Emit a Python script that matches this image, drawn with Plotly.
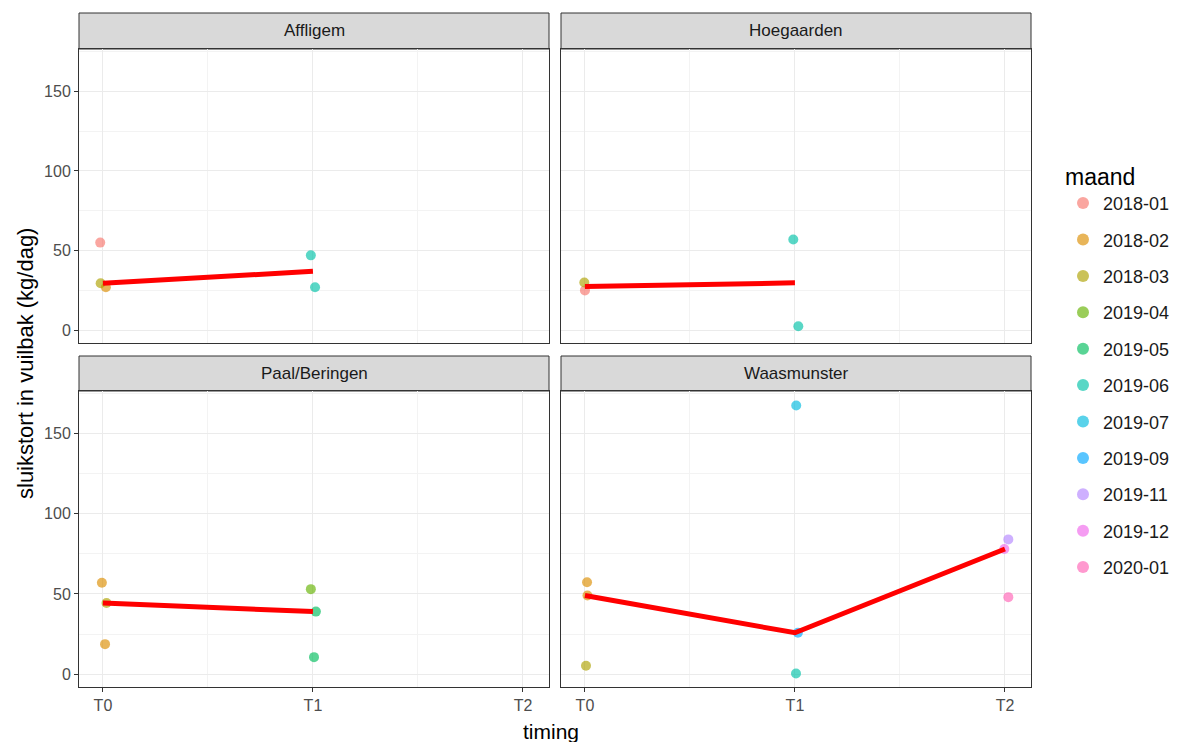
import numpy as np
import plotly.graph_objects as go

# ---------------- data ----------------
sites = ["Affligem", "Hoegaarden", "Paal/Beringen", "Waasmunster"]
timing_labels = ["T0", "T1", "T2"]
months = ["2018-01", "2018-02", "2018-03", "2019-04", "2019-05", "2019-06",
          "2019-07", "2019-09", "2019-11", "2019-12", "2020-01"]
month_colors = ["#F8766D", "#DB8E00", "#AEA200", "#64B200", "#00BD5C", "#00C1A7",
                "#00BADE", "#00A6FF", "#B385FF", "#EF67EB", "#FF63B6"]

obs_site = ["Affligem"] * 5 + ["Hoegaarden"] * 4 + ["Paal/Beringen"] * 6 + ["Waasmunster"] * 9
obs_timing = [0, 0, 0, 1, 1,
              0, 0, 1, 1,
              0, 0, 0, 1, 1, 1,
              0, 0, 0, 1, 1, 1, 2, 2, 2]
obs_month = ["2018-01", "2018-03", "2018-02", "2019-06", "2019-06",
             "2018-01", "2018-03", "2019-06", "2019-06",
             "2018-02", "2018-03", "2018-02", "2019-04", "2019-05", "2019-05",
             "2018-02", "2018-02", "2018-03", "2019-07", "2019-09", "2019-06",
             "2019-11", "2019-12", "2020-01"]
obs_value = [55, 29.5, 27, 47, 27,
             25, 30, 57, 2.5,
             57, 44.4, 18.7, 53, 39, 10.6,
             57.3, 49, 5.2, 167.5, 25.8, 0.4,
             84, 78, 48]
obs_jitter = [-0.013, -0.011, 0.014, -0.010, 0.010,
              0.0, -0.003, -0.008, 0.016,
              -0.005, 0.017, 0.010, -0.010, 0.014, 0.005,
              0.010, 0.012, 0.005, 0.006, 0.014, 0.005,
              0.016, -0.003, 0.016]

# ---------------- layout geometry ----------------
# the page body adds an 8px margin; coordinates below are window pixels
OFF = 8
W, H = 1187 - OFF, 742 - OFF
px_x = [(79, 549), (561, 1031)]
px_y_plot = [(49, 343), (391, 687)]
px_y_strip = [(13, 49), (356, 391)]

def xp(a):
    return (a - OFF) / W

def yp(a):
    return 1 - (a - OFF) / H

def xd(a, b):
    return [xp(a), xp(b)]

def yd(top, bot):
    return [yp(bot), yp(top)]

fig = go.Figure()

FONT = "Arial, Liberation Sans, sans-serif"
axis_ids = ["", "2", "3", "4"]
legend_done = set()

for i, site in enumerate(sites):
    r, c = divmod(i, 2)
    ax = axis_ids[i]
    xref = "x" + ax
    yref = "y" + ax
    idx = [k for k, s in enumerate(obs_site) if s == site]
    # points by month
    for m, col in zip(months, month_colors):
        sel = [k for k in idx if obs_month[k] == m]
        if not sel:
            continue
        show = m not in legend_done
        legend_done.add(m)
        fig.add_trace(go.Scatter(
            x=[obs_timing[k] + obs_jitter[k] for k in sel],
            y=[obs_value[k] for k in sel],
            mode="markers",
            marker=dict(color=col, size=10, opacity=0.65, line=dict(width=0)),
            name=m, legendgroup=m, showlegend=show,
            legendrank=months.index(m),
            xaxis=xref, yaxis=yref, hoverinfo="x+y+name"))
    # median line
    ts = sorted(set(obs_timing[k] for k in idx))
    med = [float(np.median([obs_value[k] for k in idx if obs_timing[k] == t])) for t in ts]
    fig.add_trace(go.Scatter(x=ts, y=med, mode="lines",
                             line=dict(color="#FF0000", width=5),
                             showlegend=False, xaxis=xref, yaxis=yref))

    xa = dict(domain=xd(*px_x[c]), range=[-0.114, 2.124],
              tickvals=[0, 1, 2], ticktext=timing_labels,
              showgrid=True, gridcolor="#EBEBEB", gridwidth=1.1,
              minor=dict(tickvals=[0.5, 1.5], showgrid=True, gridcolor="#F3F3F3", gridwidth=0.7),
              showline=True, mirror=True, linecolor="#333333", linewidth=1,
              zeroline=False, anchor=yref,
              tickfont=dict(family=FONT, size=16, color="#4D4D4D"))
    if r == 1:
        xa.update(ticks="outside", ticklen=4, tickcolor="#333333", showticklabels=True)
    else:
        xa.update(ticks="", showticklabels=False)
    if i > 0:
        xa["matches"] = "x"
    ya = dict(domain=yd(*px_y_plot[r]), range=[-8, 176.5],
              tickvals=[0, 50, 100, 150],
              showgrid=True, gridcolor="#EBEBEB", gridwidth=1.1,
              minor=dict(tickvals=[25, 75, 125, 175], showgrid=True, gridcolor="#F3F3F3", gridwidth=0.7),
              showline=True, mirror=True, linecolor="#333333", linewidth=1,
              zeroline=False, anchor=xref,
              tickfont=dict(family=FONT, size=16, color="#4D4D4D"))
    if c == 0:
        ya.update(ticks="outside", ticklen=4, tickcolor="#333333", showticklabels=True)
    else:
        ya.update(ticks="", showticklabels=False)
    fig.update_layout(**{"xaxis" + ax: xa, "yaxis" + ax: ya})

    # strip
    sx0, sx1 = xd(*px_x[c])
    sy0, sy1 = yd(*px_y_strip[r])
    fig.add_shape(type="rect", xref="paper", yref="paper", x0=sx0, x1=sx1, y0=sy0, y1=sy1,
                  fillcolor="#D9D9D9", line=dict(color="#333333", width=1), layer="below")
    fig.add_annotation(x=(sx0 + sx1) / 2, y=(sy0 + sy1) / 2, xref="paper", yref="paper",
                       text=site, showarrow=False, xanchor="center", yanchor="middle",
                       font=dict(family=FONT, size=17, color="#1A1A1A"))

# axis titles
fig.add_annotation(x=xp(25), y=yp(364), xref="paper", yref="paper",
                   text="sluikstort in vuilbak (kg/dag)", textangle=-90, showarrow=False,
                   xanchor="center", yanchor="middle",
                   font=dict(family=FONT, size=22, color="#000000"))
fig.add_annotation(x=xp(551), y=yp(731), xref="paper", yref="paper",
                   text="timing", showarrow=False, xanchor="center", yanchor="middle",
                   font=dict(family=FONT, size=21, color="#000000"))

fig.update_layout(
    width=W, height=H,
    margin=dict(l=0, r=0, t=0, b=0),
    paper_bgcolor="white", plot_bgcolor="white",
    legend=dict(x=xp(1063), y=yp(155), xanchor="left", yanchor="top",
                title=dict(text="maand", font=dict(family=FONT, size=23, color="#000000")),
                font=dict(family=FONT, size=18, color="#1A1A1A"),
                tracegroupgap=10, itemsizing="constant", bgcolor="rgba(0,0,0,0)"),
    showlegend=True,
)

fig.write_html("out.html")
